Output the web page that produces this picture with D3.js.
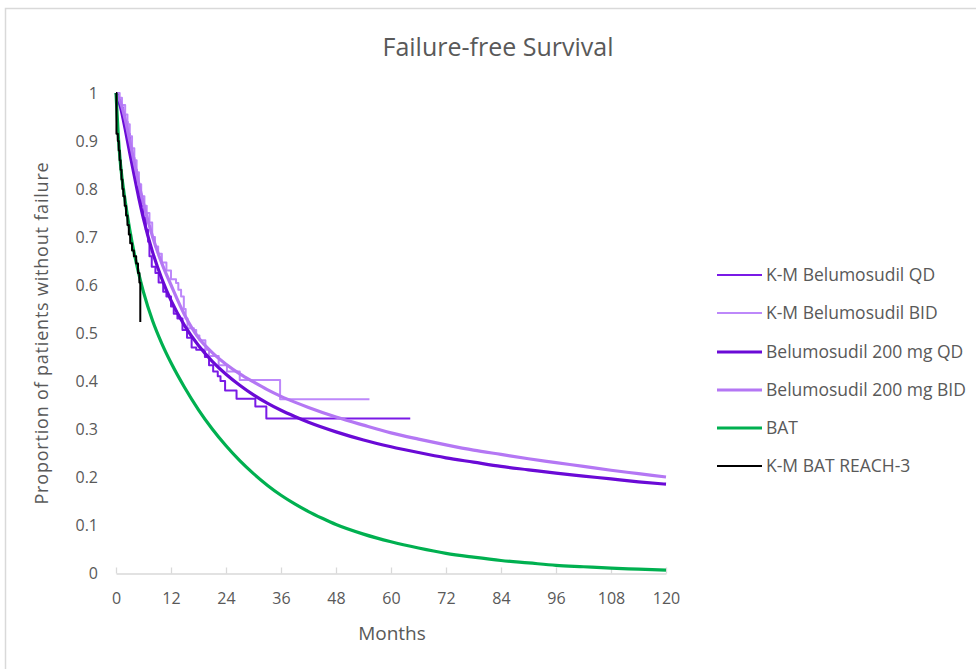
<!DOCTYPE html>
<html>
<head>
<meta charset="utf-8">
<script src="https://cdn.jsdelivr.net/npm/d3@7"></script>
<style>
  body { margin: 0; background: #fff; }
  svg { display: block; }
  text { font-family: "Open Sans", "Noto Sans", sans-serif; fill: #595959; }
</style>
</head>
<body>
<svg id="chart" width="976" height="669"></svg>
<script>
// ---------- DATA ----------
const xTicks = [0, 12, 24, 36, 48, 60, 72, 84, 96, 108, 120];
const yTicks = [0, 0.1, 0.2, 0.3, 0.4, 0.5, 0.6, 0.7, 0.8, 0.9, 1];

// Kaplan-Meier Belumosudil QD [month, survival]
const kmQD = [
  [0,1],[0.5,0.985],[1,0.97],[1.5,0.955],[2,0.94],[2.5,0.915],[3,0.89],[3.5,0.865],
  [4,0.84],[4.5,0.815],[5,0.79],[5.5,0.765],[6,0.74],[6.5,0.715],[7,0.69],[7.3,0.66],
  [7.8,0.638],[8.6,0.625],[9.3,0.605],[10.3,0.586],[11,0.576],[12,0.555],[12.6,0.54],
  [13.4,0.53],[14.5,0.506],[15.5,0.49],[16.5,0.47],[17.5,0.465],[19.4,0.45],[20.3,0.433],
  [21.2,0.42],[22.2,0.41],[22.8,0.40],[23.8,0.38],[26.3,0.363],[30.4,0.347],[32.8,0.322],[64.2,0.322]
];
// Kaplan-Meier Belumosudil BID
const kmBID = [
  [0,1],[0.8,0.99],[1.3,0.975],[2,0.955],[2.5,0.935],[3,0.91],[3.5,0.885],[4,0.86],
  [4.5,0.835],[5,0.81],[5.5,0.785],[6.2,0.765],[6.7,0.75],[7.3,0.73],[7.9,0.70],[8.5,0.68],
  [9.2,0.665],[10,0.647],[11,0.63],[12,0.612],[13.1,0.604],[13.6,0.59],[14.2,0.576],
  [14.8,0.55],[15.2,0.53],[15.6,0.51],[17,0.506],[17.5,0.495],[18.2,0.485],[19.5,0.465],
  [20.3,0.452],[22.4,0.433],[24.2,0.42],[27,0.402],[35.8,0.362],[55.3,0.362]
];
// Modelled Belumosudil 200 mg QD
const fitQD = [
  [0,1],[1,0.97],[2,0.925],[3,0.875],[4,0.827],[5,0.78],[6,0.738],[8,0.668],[10,0.613],
  [12,0.568],[15,0.515],[18,0.474],[21,0.441],[24,0.414],[27,0.391],[30,0.371],[33,0.354],
  [36,0.339],[39,0.326],[42,0.314],[48,0.294],[54,0.277],[60,0.263],[66,0.251],[72,0.24],
  [78,0.231],[84,0.222],[90,0.215],[96,0.208],[102,0.202],[108,0.196],[114,0.19],[120,0.185]
];
// Modelled Belumosudil 200 mg BID
const fitBID = [
  [0,1],[1,0.98],[2,0.945],[3,0.9],[4,0.855],[5,0.81],[6,0.77],[8,0.7],[10,0.645],
  [12,0.6],[15,0.537],[18,0.49],[21,0.459],[24,0.435],[27,0.415],[30,0.398],[33,0.382],
  [36,0.368],[39,0.356],[42,0.345],[48,0.325],[54,0.308],[60,0.292],[66,0.279],[72,0.267],
  [78,0.256],[84,0.247],[90,0.238],[96,0.23],[102,0.222],[108,0.214],[114,0.207],[120,0.2]
];
// Modelled BAT
const fitBAT = [
  [0,1],[0.5,0.91],[1,0.85],[2,0.775],[3,0.715],[4,0.665],[5,0.622],[6,0.585],[8,0.525],
  [10,0.478],[12,0.438],[15,0.386],[18,0.34],[21,0.3],[24,0.265],[27,0.234],[30,0.207],
  [33,0.183],[36,0.162],[39,0.144],[42,0.128],[45,0.114],[48,0.101],[54,0.081],[60,0.065],
  [66,0.052],[72,0.041],[78,0.033],[84,0.026],[90,0.021],[96,0.016],[102,0.013],[108,0.01],
  [114,0.008],[120,0.006]
];
// Kaplan-Meier BAT REACH-3
const kmBAT = [
  [0,1],[0.1,0.915],[0.4,0.9],[0.6,0.88],[0.8,0.86],[1.0,0.84],[1.2,0.82],[1.4,0.8],
  [1.6,0.785],[1.9,0.765],[2.2,0.745],[2.5,0.725],[2.8,0.705],[3.1,0.687],[3.5,0.672],
  [3.9,0.66],[4.4,0.645],[4.8,0.625],[5.1,0.605],[5.3,0.523]
];

const seriesNames = ["K-M Belumosudil QD","K-M Belumosudil BID","Belumosudil 200 mg QD","Belumosudil 200 mg BID","BAT","K-M BAT REACH-3"];
const seriesData = [kmQD, kmBID, fitQD, fitBID, fitBAT, kmBAT];
const seriesColors = ["#7A1AE6","#BD88FA","#6A0AD6","#B477F4","#00B050","#000000"];
const seriesWidths = [2, 2, 3.2, 3.2, 3.2, 2];
const seriesStep = [true, true, false, false, false, true];

// ---------- CHART ----------
const svg = d3.select("#chart");
svg.append("rect").attr("x",5.5).attr("y",8.5).attr("width",1000).attr("height",700)
  .attr("fill","#fff").attr("stroke","#d9d9d9").attr("stroke-width",1.5);

const x = d3.scaleLinear().domain([0,120]).range([116,666]);
const y = d3.scaleLinear().domain([0,1]).range([573,93]);

// title
svg.append("text").attr("x",498).attr("y",56).attr("text-anchor","middle")
  .style("font-size","25px").text("Failure-free Survival");

// x axis
const xAxis = d3.axisBottom(x).tickValues(xTicks).tickSizeInner(-6).tickSizeOuter(0).tickPadding(23);
const gx = svg.append("g").attr("transform","translate(0,573.5)").call(xAxis);
gx.select(".domain").attr("stroke","#d9d9d9").attr("stroke-width",1.3);
gx.selectAll(".tick line").attr("stroke","#d9d9d9").attr("stroke-width",1.3);
gx.selectAll(".tick text").style("font-size","16px").style("font-family",'"Open Sans", sans-serif').attr("fill","#595959").attr("dy","0.45em");

// y axis (labels only)
const yAxis = d3.axisLeft(y).tickValues(yTicks).tickSize(0).tickPadding(18).tickFormat(d3.format("~g"));
const gy = svg.append("g").attr("transform","translate(116,0)").call(yAxis);
gy.select(".domain").remove();
gy.selectAll(".tick text").style("font-size","16px").style("font-family",'"Open Sans", sans-serif').attr("fill","#595959");

// axis titles
svg.append("text").attr("x",392).attr("y",640).attr("text-anchor","middle")
  .style("font-size","19px").text("Months");
svg.append("text").attr("transform","translate(48,333) rotate(-90)").attr("text-anchor","middle")
  .style("font-size","18px").style("letter-spacing","0.8px").text("Proportion of patients without failure");

// lines
seriesData.forEach((data,i) => {
  const line = d3.line().x(d => x(d[0])).y(d => y(d[1]))
    .curve(seriesStep[i] ? d3.curveStepAfter : d3.curveMonotoneX);
  svg.append("path").datum(data).attr("d", line).attr("fill","none")
    .attr("stroke", seriesColors[i]).attr("stroke-width", seriesWidths[i])
    .attr("stroke-linejoin","round");
});

// legend
const legendY = [275, 313, 352, 390, 428, 466];
seriesNames.forEach((name,i) => {
  const g = svg.append("g").attr("transform",`translate(717,${legendY[i]})`);
  g.append("line").attr("x1",0).attr("x2",45).attr("y1",0).attr("y2",0)
    .attr("stroke",seriesColors[i]).attr("stroke-width",seriesWidths[i]);
  g.append("text").attr("x",49).attr("y",0).attr("dy","0.35em")
    .style("font-size","17.5px").text(name);
});
</script>
</body>
</html>
